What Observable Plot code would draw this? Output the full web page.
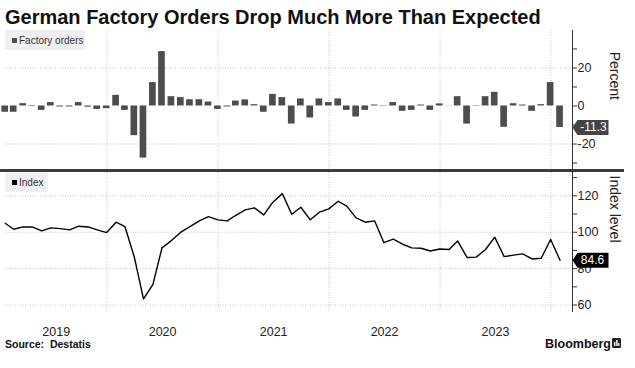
<!DOCTYPE html>
<html>
<head>
<meta charset="utf-8">
<script src="https://cdn.jsdelivr.net/npm/d3@7"></script>
<script src="https://cdn.jsdelivr.net/npm/@observablehq/plot@0.6"></script>
<style>
  body { margin: 0; background: #fff; font-family: "Liberation Sans", Arial, sans-serif; }
  #wrap { position: relative; width: 635px; height: 368px; overflow: hidden; background: #fff; }
  .abs { position: absolute; }
  #title { left: 5px; top: 7px; font-size: 20px; line-height: 20px; font-weight: bold; color: #111; white-space: nowrap; }
  .legend { background: #efefef; font-size: 10px; color: #333; }
  .legend .sw { position: absolute; width: 5px; height: 5px; }
  .legend .lt { position: absolute; left: 14px; line-height: 12px; white-space: nowrap; }
  #sep { left: 0; top: 168.5px; width: 624px; height: 3px; background: #3a3a3a; }
  #source { left: 5px; top: 338px; font-size: 10.5px; line-height: 12px; font-weight: bold; color: #111; white-space: pre; }
  #brand { left: 545px; top: 336.5px; font-size: 12.5px; line-height: 14px; font-weight: bold; color: #111; }
  #logo { left: 612px; top: 338px; }
</style>
</head>
<body>
<div id="wrap">
  <div id="title" class="abs">German Factory Orders Drop Much More Than Expected</div>
  <div id="top" class="abs" style="left:0;top:28px"></div>
  <div id="bottom" class="abs" style="left:0;top:170px"></div>
  <div id="sep" class="abs"></div>
  <div class="abs legend" style="left:5px;top:30px;width:80px;height:20px">
    <div class="sw" style="left:6.7px;top:7.7px;background:#4d4d4d"></div>
    <div class="lt" style="top:4.5px">Factory orders</div>
  </div>
  <div class="abs legend" style="left:5px;top:173px;width:43px;height:18.5px">
    <div class="sw" style="left:6.7px;top:7px;background:#000"></div>
    <div class="lt" style="top:3.5px">Index</div>
  </div>
  <div id="source" class="abs">Source:  Destatis</div>
  <div id="brand" class="abs">Bloomberg</div>
  <svg id="logo" class="abs" width="9" height="10" viewBox="0 0 9 10">
    <rect x="0" y="0" width="9" height="10" rx="1.2" fill="#222"/>
    <rect x="2" y="4" width="1.4" height="4" fill="#fff"/>
    <rect x="4.2" y="2" width="1.4" height="6" fill="#fff"/>
    <rect x="6.2" y="5" width="1.2" height="3" fill="#fff"/>
  </svg>
</div>
<script>
// ---- Data (monthly, Jan 2019 – Jan 2024) ----
const startMonth = "2019-01";
const endMonth = "2024-01";
// Factory orders, % change month over month
const orders = [
  -3.3, -3.3, 1.2, -0.3, -2.3, 1.8, -0.5, -0.5, 1.8, -0.6, -1.8, -1.4,
  5.6, -2.3, -15.6, -27.4, 12.3, 28.6, 4.9, 4.4, 3.3, 3.3, 2.1, -1.8,
  -0.5, 2.6, 3.2, 0.7, -3.3, 6.1, 4.4, -9.5, 3.7, -6.3, 3.7, 1.8,
  3.7, -2.3, -5.8, -2.3, 0.5, -0.2, 1.8, -2.8, -2.3, 0.5, -2.3, 1.1,
  -0.1, 4.9, -9.5, 0.2, 4.9, 7.2, -11.2, 1.2, 0.5, -2.8, 0.7, 12.3,
  -11.3
];
// Factory orders index level
const indexLevel = [
  104.9, 101.6, 102.9, 102.9, 100.7, 102.4, 102.0, 101.3, 103.3, 102.9, 101.3, 99.8,
  105.5, 103.1, 86.3, 63.4, 71.2, 91.4, 95.4, 100.0, 103.1, 106.2, 108.6, 106.8,
  106.2, 109.3, 112.3, 113.4, 109.5, 116.5, 121.2, 109.9, 113.7, 106.8, 111.0, 112.8,
  117.0, 114.3, 107.9, 105.5, 106.2, 94.3, 96.2, 93.4, 91.4, 91.2, 89.7, 90.8,
  90.5, 95.2, 86.1, 86.3, 90.5, 97.3, 86.6, 87.4, 88.1, 85.3, 85.7, 96.0,
  84.6
];
const yearLabels = ["2019", "2020", "2021", "2022", "2023"];
const percentTicks = [-30, -20, -10, 0, 10, 20, 30];
const percentLabels = [-20, 0, 20];
const indexTicks = [60, 70, 80, 90, 100, 110, 120, 130];
const indexLabels = [60, 80, 100, 120];

// ---- Build table ----
const parseMonth = d3.utcParse("%Y-%m");
const months = d3.utcMonth.range(parseMonth(startMonth), d3.utcMonth.offset(parseMonth(endMonth), 1));
const data = months.map((m, i) => ({
  date: d3.utcDay.offset(d3.utcMonth.offset(m, 1), -1), // Bloomberg dates monthly data at month end
  orders: orders[i],
  index: indexLevel[i]
}));
const last = data[data.length - 1];

const xDomain = [new Date(Date.UTC(2019, 1, 1)), new Date(Date.UTC(2024, 2, 12))];
const yearStarts = d3.utcYear.range(d3.utcYear.ceil(xDomain[0]), xDomain[1]);
// label each year at the middle of its visible span
const yearTicks = yearLabels.map(y => {
  const a = d3.max([parseMonth(y + "-01"), xDomain[0]]);
  const b = d3.min([parseMonth((+y + 1) + "-01"), xDomain[1]]);
  return new Date((+a + +b) / 2);
});

const tagSymbol = {
  draw(ctx) {
    ctx.moveTo(0, 0);
    ctx.lineTo(5, -7.5);
    ctx.lineTo(36, -7.5);
    ctx.lineTo(36, 7.5);
    ctx.lineTo(5, 7.5);
    ctx.closePath();
  }
};

const gridStyle = { stroke: "#c4c4c4", strokeDasharray: "1,1.5", strokeWidth: 1 };
const baseStyle = { fontFamily: "Liberation Sans, Arial, sans-serif", fontSize: "12.5px", color: "#222", background: "transparent", overflow: "visible" };

const topPlot = Plot.plot({
  width: 635, height: 142,
  marginLeft: 5, marginRight: 63, marginTop: 2, marginBottom: 1,
  style: baseStyle,
  x: { type: "utc", domain: xDomain, axis: null },
  y: { domain: [-33.4, 39.7], label: null },
  marks: [
    Plot.ruleY(percentLabels.filter(d => d !== 0), gridStyle),
    Plot.ruleX(yearStarts, gridStyle),
    Plot.rect(data, {
      x1: d => d3.utcDay.offset(d.date, -11),
      x2: d => d3.utcDay.offset(d.date, 11),
      y1: () => 0, y2: "orders",
      fill: "#4d4d4d"
    }),
    Plot.ruleX([xDomain[1]], { stroke: "#333", strokeWidth: 1 }),
    Plot.axisY(percentTicks, {
      anchor: "right", tickSize: 4, tickPadding: 1, label: null,
      stroke: "#333", fill: "#222",
      tickFormat: d => percentLabels.includes(d) ? String(d) : ""
    }),
    Plot.text(["Percent"], { frameAnchor: "right", rotate: 90, dx: 42, text: d => d, fontSize: 14, fill: "#222" }),
    Plot.dot([last], { x: () => xDomain[1], y: "orders", symbol: tagSymbol, fill: "#444", stroke: "none" }),
    Plot.text([last], { x: () => xDomain[1], y: "orders", text: d => d.orders.toFixed(1), dx: 21, fill: "#fff", fontSize: 12 })
  ]
});
document.getElementById("top").append(topPlot);

const bottomPlot = Plot.plot({
  width: 635, height: 170,
  marginLeft: 5, marginRight: 63, marginTop: 2, marginBottom: 28,
  style: baseStyle,
  x: { type: "utc", domain: xDomain, label: null },
  y: { domain: [55.9, 132.8], label: null },
  marks: [
    Plot.ruleY(indexLabels, gridStyle),
    Plot.ruleX(yearStarts, gridStyle),
    Plot.line(data, { x: "date", y: "index", stroke: "#000", strokeWidth: 1.4 }),
    Plot.ruleX([xDomain[1]], { stroke: "#333", strokeWidth: 1 }),
    Plot.axisY(indexTicks, {
      anchor: "right", tickSize: 4, tickPadding: 1, label: null,
      stroke: "#333", fill: "#222",
      tickFormat: d => indexLabels.includes(d) ? String(d) : ""
    }),
    Plot.axisX(yearTicks, {
      anchor: "bottom", tickSize: 0, tickPadding: 15, label: null, fill: "#222",
      tickFormat: (d, i) => yearLabels[i]
    }),
    Plot.text(["Index level"], { frameAnchor: "right", rotate: 90, dx: 42, text: d => d, fontSize: 14, fill: "#222" }),
    Plot.dot([last], { x: () => xDomain[1], y: "index", symbol: tagSymbol, fill: "#000", stroke: "none" }),
    Plot.text([last], { x: () => xDomain[1], y: "index", text: d => d.index.toFixed(1), dx: 20, fill: "#fff", fontSize: 12 })
  ]
});
document.getElementById("bottom").append(bottomPlot);
</script>
</body>
</html>
